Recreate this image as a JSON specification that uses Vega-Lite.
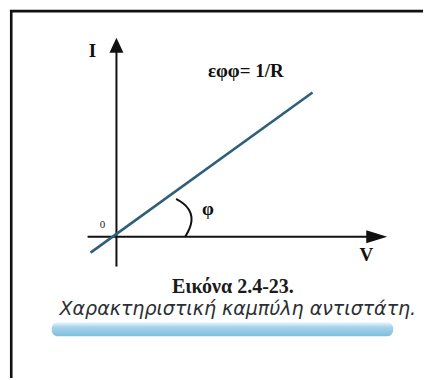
{
  "$schema": "https://vega.github.io/schema/vega-lite/v6.json",
  "width": 425,
  "height": 380,
  "autosize": {"type": "fit", "contains": "padding"},
  "padding": 0,
  "background": "white",
  "config": {"view": {"stroke": null}},
  "datasets": {
    "frame": [
      {"x": -105.7, "y": 228, "x2": -105.7, "y2": -142},
      {"x": -107, "y": 226.8, "x2": 308, "y2": 226.8}
    ],
    "axes": [
      {"x": 0, "y": -30, "x2": 0, "y2": 188},
      {"x": -29, "y": 0, "x2": 262, "y2": 0}
    ],
    "arrowUp": [{"x": 0, "y": 192.5}],
    "arrowRight": [{"x": 261.5, "y": 0}],
    "characteristic": [
      {"V": -26, "I": -16},
      {"V": 197, "I": 145}
    ],
    "angle": [
      {"step": 0, "V": 60, "I": 38},
      {"step": 1, "V": 67, "I": 34},
      {"step": 2, "V": 73, "I": 28},
      {"step": 3, "V": 76, "I": 20},
      {"step": 4, "V": 75, "I": 12},
      {"step": 5, "V": 72, "I": 5},
      {"step": 6, "V": 69, "I": 0}
    ],
    "axisLabels": [
      {"x": -24, "y": 187, "label": "I"},
      {"x": 251, "y": -18, "label": "V"},
      {"x": 92, "y": 28, "label": "φ"},
      {"x": 130, "y": 167, "label": "εφφ= 1/R"}
    ],
    "originLabel": [{"x": -14, "y": 12, "label": "0"}],
    "figureNumber": [{"x": 117, "y": -51, "label": "Εικόνα 2.4-23."}],
    "figureCaption": [{"x": 122, "y": -73, "label": "Χαρακτηριστική καμπύλη αντιστάτη."}],
    "band": [{"x": -65, "x2": 278, "y": -86, "y2": -100}]
  },
  "layer": [
    {
      "data": {"name": "band"},
      "mark": {
        "type": "rect",
        "cornerRadius": 6,
        "color": {
          "gradient": "linear",
          "x1": 0, "y1": 0, "x2": 0, "y2": 1,
          "stops": [
            {"offset": 0, "color": "#eaf6fb"},
            {"offset": 0.35, "color": "#a6d4ea"},
            {"offset": 1, "color": "#7dbddc"}
          ]
        }
      },
      "encoding": {
        "x": {"field": "x", "type": "quantitative", "scale": {"domain": [-117, 308], "nice": false, "zero": false}, "axis": null},
        "x2": {"field": "x2"},
        "y": {"field": "y", "type": "quantitative", "scale": {"domain": [-142, 238], "nice": false, "zero": false}, "axis": null},
        "y2": {"field": "y2"}
      }
    },
    {
      "data": {"name": "frame"},
      "mark": {"type": "rule", "color": "#111111", "strokeWidth": 2.6},
      "encoding": {
        "x": {"field": "x", "type": "quantitative"},
        "y": {"field": "y", "type": "quantitative"},
        "x2": {"field": "x2"},
        "y2": {"field": "y2"}
      }
    },
    {
      "data": {"name": "axes"},
      "mark": {"type": "rule", "color": "#111111", "strokeWidth": 2},
      "encoding": {
        "x": {"field": "x", "type": "quantitative"},
        "y": {"field": "y", "type": "quantitative"},
        "x2": {"field": "x2"},
        "y2": {"field": "y2"}
      }
    },
    {
      "data": {"name": "arrowUp"},
      "mark": {"type": "point", "shape": "M0,-1L-0.93,1L0.93,1Z", "size": 225, "filled": true, "color": "#111111", "opacity": 1},
      "encoding": {
        "x": {"field": "x", "type": "quantitative"},
        "y": {"field": "y", "type": "quantitative"}
      }
    },
    {
      "data": {"name": "arrowRight"},
      "mark": {"type": "point", "shape": "M1,0L-1,-0.62L-1,0.62Z", "size": 441, "filled": true, "color": "#111111", "opacity": 1},
      "encoding": {
        "x": {"field": "x", "type": "quantitative"},
        "y": {"field": "y", "type": "quantitative"}
      }
    },
    {
      "data": {"name": "characteristic"},
      "mark": {"type": "line", "color": "#2f5f7c", "strokeWidth": 2.6},
      "encoding": {
        "x": {"field": "V", "type": "quantitative"},
        "y": {"field": "I", "type": "quantitative"}
      }
    },
    {
      "data": {"name": "angle"},
      "mark": {"type": "line", "color": "#111111", "strokeWidth": 2, "interpolate": "basis"},
      "encoding": {
        "x": {"field": "V", "type": "quantitative"},
        "y": {"field": "I", "type": "quantitative"},
        "order": {"field": "step", "type": "quantitative"}
      }
    },
    {
      "data": {"name": "axisLabels"},
      "mark": {"type": "text", "font": "Liberation Serif", "fontWeight": "bold", "fontSize": 19, "color": "#111111", "align": "center", "baseline": "middle"},
      "encoding": {
        "x": {"field": "x", "type": "quantitative"},
        "y": {"field": "y", "type": "quantitative"},
        "text": {"field": "label"}
      }
    },
    {
      "data": {"name": "originLabel"},
      "mark": {"type": "text", "font": "Liberation Serif", "fontSize": 11, "color": "#222222", "align": "center", "baseline": "middle"},
      "encoding": {
        "x": {"field": "x", "type": "quantitative"},
        "y": {"field": "y", "type": "quantitative"},
        "text": {"field": "label"}
      }
    },
    {
      "data": {"name": "figureNumber"},
      "mark": {"type": "text", "font": "Liberation Serif", "fontWeight": "bold", "fontSize": 20, "color": "#1a1a1a", "align": "center", "baseline": "middle"},
      "encoding": {
        "x": {"field": "x", "type": "quantitative"},
        "y": {"field": "y", "type": "quantitative"},
        "text": {"field": "label"}
      }
    },
    {
      "data": {"name": "figureCaption"},
      "mark": {"type": "text", "font": "DejaVu Sans", "fontStyle": "italic", "fontSize": 19, "color": "#2b2f33", "align": "center", "baseline": "middle"},
      "encoding": {
        "x": {"field": "x", "type": "quantitative"},
        "y": {"field": "y", "type": "quantitative"},
        "text": {"field": "label"}
      }
    }
  ]
}
